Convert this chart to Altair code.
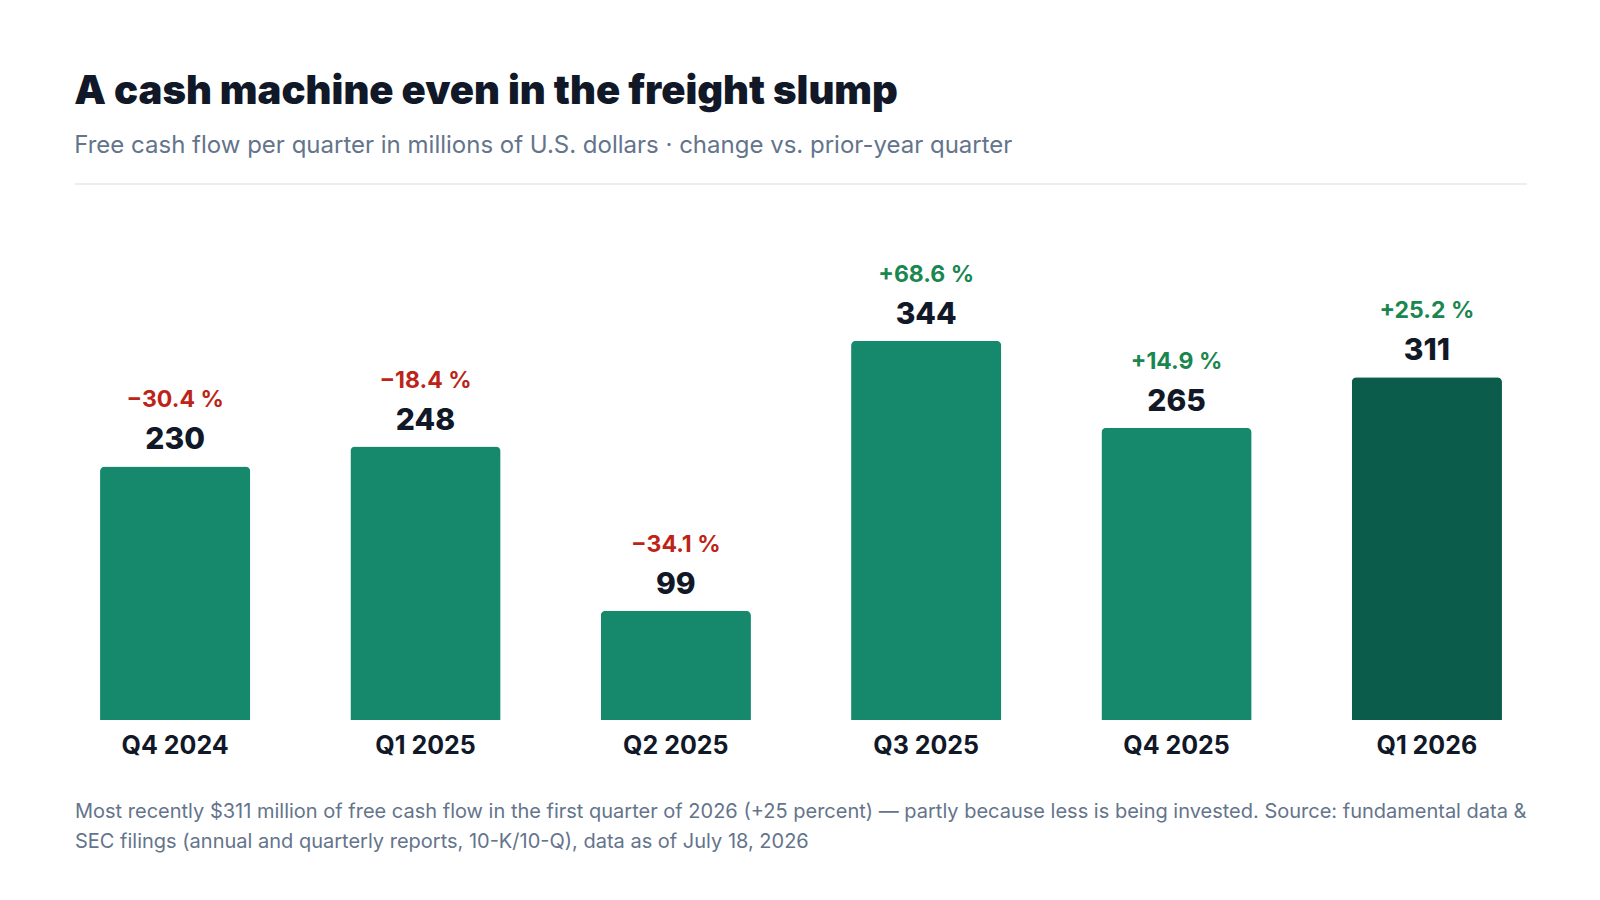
import altair as alt
import pandas as pd

quarters = ["Q4 2024", "Q1 2025", "Q2 2025", "Q3 2025", "Q4 2025", "Q1 2026"]
fcf = [230, 248, 99, 344, 265, 311]
yoy = [-30.4, -18.4, -34.1, 68.6, 14.9, 25.2]
highlight = [False, False, False, False, False, True]

title_text = "A cash machine even in the freight slump"
subtitle_text = "Free cash flow per quarter in millions of U.S. dollars · change vs. prior-year quarter"
footer_lines = [
    "Most recently $311 million of free cash flow in the first quarter of 2026 (+25 percent) — partly because less is being invested. Source: fundamental data &",
    "SEC filings (annual and quarterly reports, 10-K/10-Q), data as of July 18, 2026",
]


def fmt(v):
    s = f"{abs(v):.1f} %"
    return ("+" if v >= 0 else "\u2212") + s


df = pd.DataFrame({
    "quarter": quarters,
    "fcf": fcf,
    "yoy": yoy,
    "pct": [fmt(v) for v in yoy],
    "hl": highlight,
})

W, H = 1452, 463
FONT = "Inter"

x = alt.X("quarter:N", sort=quarters,
          scale=alt.Scale(paddingInner=0.4, paddingOuter=0.1),
          axis=alt.Axis(title=None, labelAngle=0, domain=False, ticks=False, grid=False,
                        labelFont=FONT, labelFontSize=25, labelFontWeight=700,
                        labelColor="#111827", labelPadding=13))
y = alt.Y("fcf:Q", scale=alt.Scale(domain=[0, 420]), axis=None)

base = alt.Chart(df)

bars = base.mark_bar(cornerRadiusTopLeft=5, cornerRadiusTopRight=5).encode(
    x=x, y=y,
    color=alt.condition("datum.hl", alt.value("#0b5c4a"), alt.value("#16896d")),
)

nums = base.mark_text(font=FONT, fontSize=30, fontWeight=800, color="#111827",
                      baseline="alphabetic", dy=-17).encode(
    x=x, y=y, text="fcf:Q")

pcts = base.mark_text(font=FONT, fontSize=23, fontWeight=700,
                      baseline="alphabetic", dy=-59).encode(
    x=x, y=y, text="pct:N",
    color=alt.condition("datum.yoy >= 0", alt.value("#1a8650"), alt.value("#bd2418")))

one = alt.Chart(pd.DataFrame({"k": [0]}))
sep = one.mark_rule(color="#e5e7eb", strokeWidth=1.5).encode(
    x=alt.value(0), x2=alt.value(W), y=alt.value(-73))

footer = one.mark_text(font=FONT, fontSize=20, color="#64748b", align="left",
                       baseline="alphabetic", lineHeight=30).encode(
    x=alt.value(0), y=alt.value(561), text=alt.value(footer_lines))

chart = alt.layer(bars, nums, pcts, sep, footer).properties(
    width=W, height=H,
    autosize=alt.AutoSizeParams(type="none"),
    padding={"left": 67, "top": 249, "right": 65, "bottom": 150},
    title=alt.TitleParams(
        text=title_text, subtitle=subtitle_text, anchor="start",
        font=FONT, fontSize=40, fontWeight=900, color="#111827",
        subtitleFont=FONT, subtitleFontSize=24, subtitleColor="#64748b",
        subtitlePadding=22, offset=25,
    ),
).configure(background="white").configure_view(strokeWidth=0, stroke="transparent")

chart.save("out.html", embed_options={"renderer": "svg", "actions": False})
